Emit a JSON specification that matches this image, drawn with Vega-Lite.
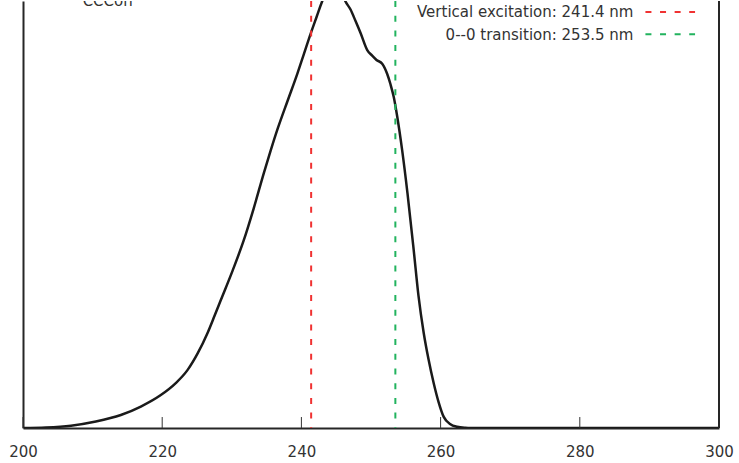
{
  "$schema": "https://vega.github.io/schema/vega-lite/v6.json",
  "width": 739,
  "height": 463,
  "autosize": {"type": "fit", "contains": "padding"},
  "padding": {"left": 8, "top": 0, "right": 5, "bottom": 4},
  "background": "white",
  "config": {
    "view": {"stroke": null},
    "font": "DejaVu Sans",
    "axis": {"grid": false}
  },
  "datasets": {
    "spectrum": [
      {"nm": 200, "intensity": 0},
      {"nm": 203.3, "intensity": 0.0012},
      {"nm": 206.89, "intensity": 0.0054},
      {"nm": 210.47, "intensity": 0.0152},
      {"nm": 214.06, "intensity": 0.0304},
      {"nm": 216.93, "intensity": 0.0502},
      {"nm": 219.8, "intensity": 0.0771},
      {"nm": 221.95, "intensity": 0.1051},
      {"nm": 223.63, "intensity": 0.1355},
      {"nm": 225.11, "intensity": 0.1752},
      {"nm": 226.5, "intensity": 0.222},
      {"nm": 227.55, "intensity": 0.264},
      {"nm": 228.41, "intensity": 0.2991},
      {"nm": 230.13, "intensity": 0.3692},
      {"nm": 231.71, "intensity": 0.4393},
      {"nm": 233.14, "intensity": 0.514},
      {"nm": 234.58, "intensity": 0.5958},
      {"nm": 235.58, "intensity": 0.6495},
      {"nm": 236.59, "intensity": 0.7009},
      {"nm": 238.02, "intensity": 0.7664},
      {"nm": 239.41, "intensity": 0.8294},
      {"nm": 240.32, "intensity": 0.8738},
      {"nm": 241.32, "intensity": 0.9229},
      {"nm": 242.18, "intensity": 0.9626},
      {"nm": 243.0, "intensity": 1.0},
      {"nm": 244.0, "intensity": 1.035},
      {"nm": 244.7, "intensity": 1.05},
      {"nm": 245.5, "intensity": 1.035},
      {"nm": 246.3, "intensity": 1.0},
      {"nm": 247.06, "intensity": 0.98},
      {"nm": 247.78, "intensity": 0.953},
      {"nm": 248.5, "intensity": 0.925},
      {"nm": 249.46, "intensity": 0.885},
      {"nm": 250.17, "intensity": 0.872},
      {"nm": 250.79, "intensity": 0.862},
      {"nm": 251.61, "intensity": 0.853},
      {"nm": 252.33, "intensity": 0.829},
      {"nm": 252.8, "intensity": 0.805},
      {"nm": 253.27, "intensity": 0.775},
      {"nm": 253.76, "intensity": 0.73},
      {"nm": 254.48, "intensity": 0.65},
      {"nm": 255.24, "intensity": 0.55},
      {"nm": 256.14, "intensity": 0.416},
      {"nm": 256.82, "intensity": 0.31},
      {"nm": 257.58, "intensity": 0.222},
      {"nm": 258.25, "intensity": 0.162},
      {"nm": 259.01, "intensity": 0.105},
      {"nm": 259.69, "intensity": 0.062},
      {"nm": 260.45, "intensity": 0.026},
      {"nm": 261.41, "intensity": 0.009},
      {"nm": 262.37, "intensity": 0.003},
      {"nm": 263.56, "intensity": 0.0005},
      {"nm": 264.28, "intensity": 0},
      {"nm": 300, "intensity": 0}
    ],
    "markers": [
      {"kind": "vertical", "nm": 241.4, "label": "Vertical excitation: 241.4 nm"},
      {"kind": "zerozero", "nm": 253.5, "label": "0--0 transition: 253.5 nm"}
    ],
    "tickvals": [
      {"nm": 200}, {"nm": 220}, {"nm": 240}, {"nm": 260}, {"nm": 280}, {"nm": 300}
    ]
  },
  "layer": [
    {
      "data": {"name": "spectrum"},
      "mark": {"type": "line", "color": "#1a1a1a", "strokeWidth": 2.5, "interpolate": "monotone", "clip": true},
      "encoding": {
        "x": {
          "field": "nm", "type": "quantitative", "title": null,
          "scale": {"domain": [200, 300], "nice": false, "zero": false},
          "axis": {
            "orient": "bottom", "values": [200, 220, 240, 260, 280, 300],
            "format": "d",
            "domainColor": "#262626", "domainWidth": 2,
            "ticks": false,
            "labelFontSize": 15, "labelColor": "#333333", "labelPadding": 16,
            "labelFlush": false
          }
        },
        "y": {
          "field": "intensity", "type": "quantitative", "title": null,
          "scale": {"domain": [0, 1], "nice": false, "zero": true},
          "axis": {"orient": "left", "labels": false, "ticks": false, "domain": true, "domainColor": "#262626", "domainWidth": 2}
        }
      }
    },
    {
      "data": {"name": "tickvals"},
      "mark": {"type": "rule", "color": "#333333", "strokeWidth": 1},
      "encoding": {
        "x": {"field": "nm", "type": "quantitative"},
        "y": {"datum": 0, "type": "quantitative"},
        "y2": {"datum": 0.0257}
      }
    },
    {
      "data": {"name": "markers"},
      "mark": {"type": "rule", "strokeWidth": 2, "strokeDash": [6, 8.7]},
      "encoding": {
        "x": {"field": "nm", "type": "quantitative"},
        "color": {"field": "kind", "type": "nominal", "scale": {"domain": ["vertical", "zerozero"], "range": ["#f03232", "#22b35e"]}, "legend": null}
      }
    },
    {
      "data": {"name": "tickvals"},
      "transform": [{"filter": {"field": "nm", "equal": 300}}],
      "mark": {"type": "rule", "color": "#262626", "strokeWidth": 2},
      "encoding": {
        "x": {"field": "nm", "type": "quantitative"}
      }
    },
    {
      "data": {"name": "markers"},
      "transform": [{"filter": {"field": "kind", "equal": "vertical"}}],
      "mark": {"type": "text", "align": "right", "baseline": "alphabetic", "fontSize": 15, "font": "DejaVu Sans", "color": "#333333"},
      "encoding": {
        "x": {"datum": 287.7, "type": "quantitative"},
        "y": {"datum": 0.9626, "type": "quantitative"},
        "text": {"field": "label"}
      }
    },
    {
      "data": {"name": "markers"},
      "transform": [{"filter": {"field": "kind", "equal": "zerozero"}}],
      "mark": {"type": "text", "align": "right", "baseline": "alphabetic", "fontSize": 15, "font": "DejaVu Sans", "color": "#333333"},
      "encoding": {
        "x": {"datum": 287.7, "type": "quantitative"},
        "y": {"datum": 0.9082, "type": "quantitative"},
        "text": {"field": "label"}
      }
    },
    {
      "data": {"name": "markers"},
      "transform": [{"filter": {"field": "kind", "equal": "vertical"}}],
      "mark": {"type": "rule", "strokeWidth": 2, "strokeDash": [6, 8.6], "color": "#f03232"},
      "encoding": {
        "x": {"datum": 289.43, "type": "quantitative"},
        "x2": {"datum": 296.56},
        "y": {"datum": 0.9743, "type": "quantitative"}
      }
    },
    {
      "data": {"name": "markers"},
      "transform": [{"filter": {"field": "kind", "equal": "zerozero"}}],
      "mark": {"type": "rule", "strokeWidth": 2, "strokeDash": [6, 8.6], "color": "#22b35e"},
      "encoding": {
        "x": {"datum": 289.43, "type": "quantitative"},
        "x2": {"datum": 296.56},
        "y": {"datum": 0.9222, "type": "quantitative"}
      }
    },
    {
      "data": {"values": [{"name": "CCCoh"}]},
      "mark": {"type": "text", "align": "left", "baseline": "alphabetic", "fontSize": 15, "font": "DejaVu Sans", "color": "#333333", "clip": true},
      "encoding": {
        "x": {"datum": 208.57, "type": "quantitative"},
        "y": {"datum": 0.988, "type": "quantitative"},
        "text": {"field": "name"}
      }
    }
  ]
}
